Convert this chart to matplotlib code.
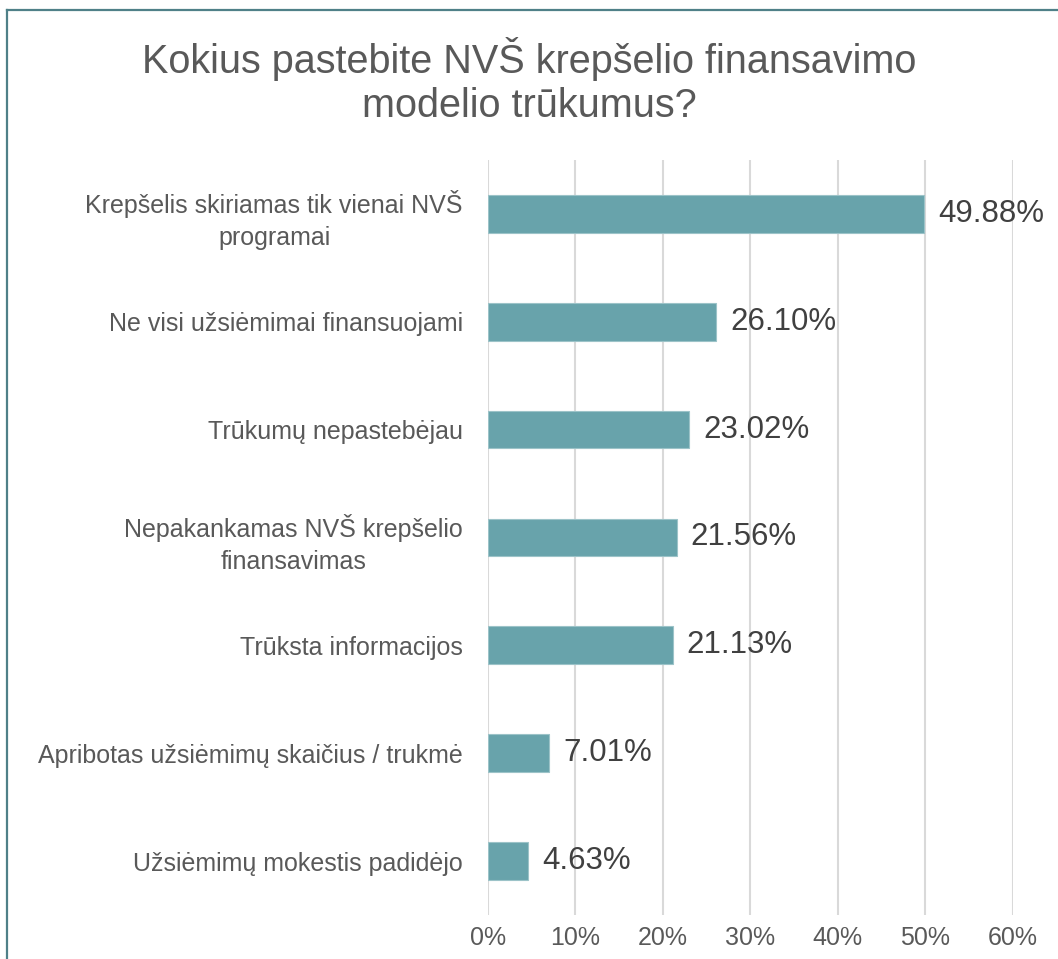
import matplotlib.pyplot as plt
from matplotlib.lines import Line2D
from matplotlib.ticker import FuncFormatter

categories = [
    'Krepšelis skiriamas tik vienai NVŠ\nprogramai',
    'Ne visi užsiėmimai finansuojami',
    'Trūkumų nepastebėjau',
    'Nepakankamas NVŠ krepšelio\nfinansavimas',
    'Trūksta informacijos',
    'Apribotas užsiėmimų skaičius / trukmė',
    'Užsiėmimų mokestis padidėjo',
]
values = [49.88, 26.10, 23.02, 21.56, 21.13, 7.01, 4.63]
x_ticks = [0, 10, 20, 30, 40, 50, 60]

title = 'Kokius pastebite NVŠ krepšelio finansavimo\nmodelio trūkumus?'

bar_color = '#68a3ab'
text_grey = '#595959'
value_grey = '#404040'
grid_grey = '#d9d9d9'

plt.rcParams['font.family'] = ['Liberation Sans', 'DejaVu Sans']

fig = plt.figure(figsize=(10.58, 9.59), dpi=100)
ax = fig.add_axes([0.4612, 0.0459, 0.4962, 0.7873])

y = list(range(len(categories)))
ax.barh(y, values, height=0.35, color=bar_color, edgecolor='#9cc3c8', linewidth=0.8, zorder=3)

for yi, v in zip(y, values):
    ax.annotate(f'{v:.2f}%', xy=(v, yi), xytext=(10, 0), textcoords='offset points',
                va='center', ha='left', fontsize=22.5, color=value_grey, zorder=4)

ax.set_xlim(0, 60)
ax.set_ylim(len(categories) - 0.5, -0.5)
ax.set_xticks(x_ticks)
ax.xaxis.set_major_formatter(FuncFormatter(lambda v, p: f'{v:.0f}%'))
ax.set_yticks(y)
ax.set_yticklabels(categories, fontsize=18, color=text_grey, ha='right',
                   multialignment='center', linespacing=1.4)
ax.tick_params(axis='x', length=0, pad=8, labelsize=18, labelcolor=text_grey)
ax.tick_params(axis='y', length=0, pad=18)

ax.grid(axis='x', color=grid_grey, linewidth=1.5, zorder=0)
ax.grid(axis='y', visible=False)
for s in ax.spines.values():
    s.set_visible(False)

fig.text(0.5, 1 - 117 / 959, title, ha='center', va='baseline', fontsize=28.5,
         color=text_grey, linespacing=1.2)

# frame edge at top and left, like the cut-off chart area border
W, H = 1058, 959
fig.add_artist(Line2D([7 / W, 1], [1 - 9.5 / H, 1 - 9.5 / H], color='#4f8088', linewidth=1.6,
                      transform=fig.transFigure))
fig.add_artist(Line2D([7 / W, 7 / W], [0, 1 - 9.5 / H], color='#4f8088', linewidth=1.6,
                      transform=fig.transFigure))

fig.savefig('out.png', dpi=100)
